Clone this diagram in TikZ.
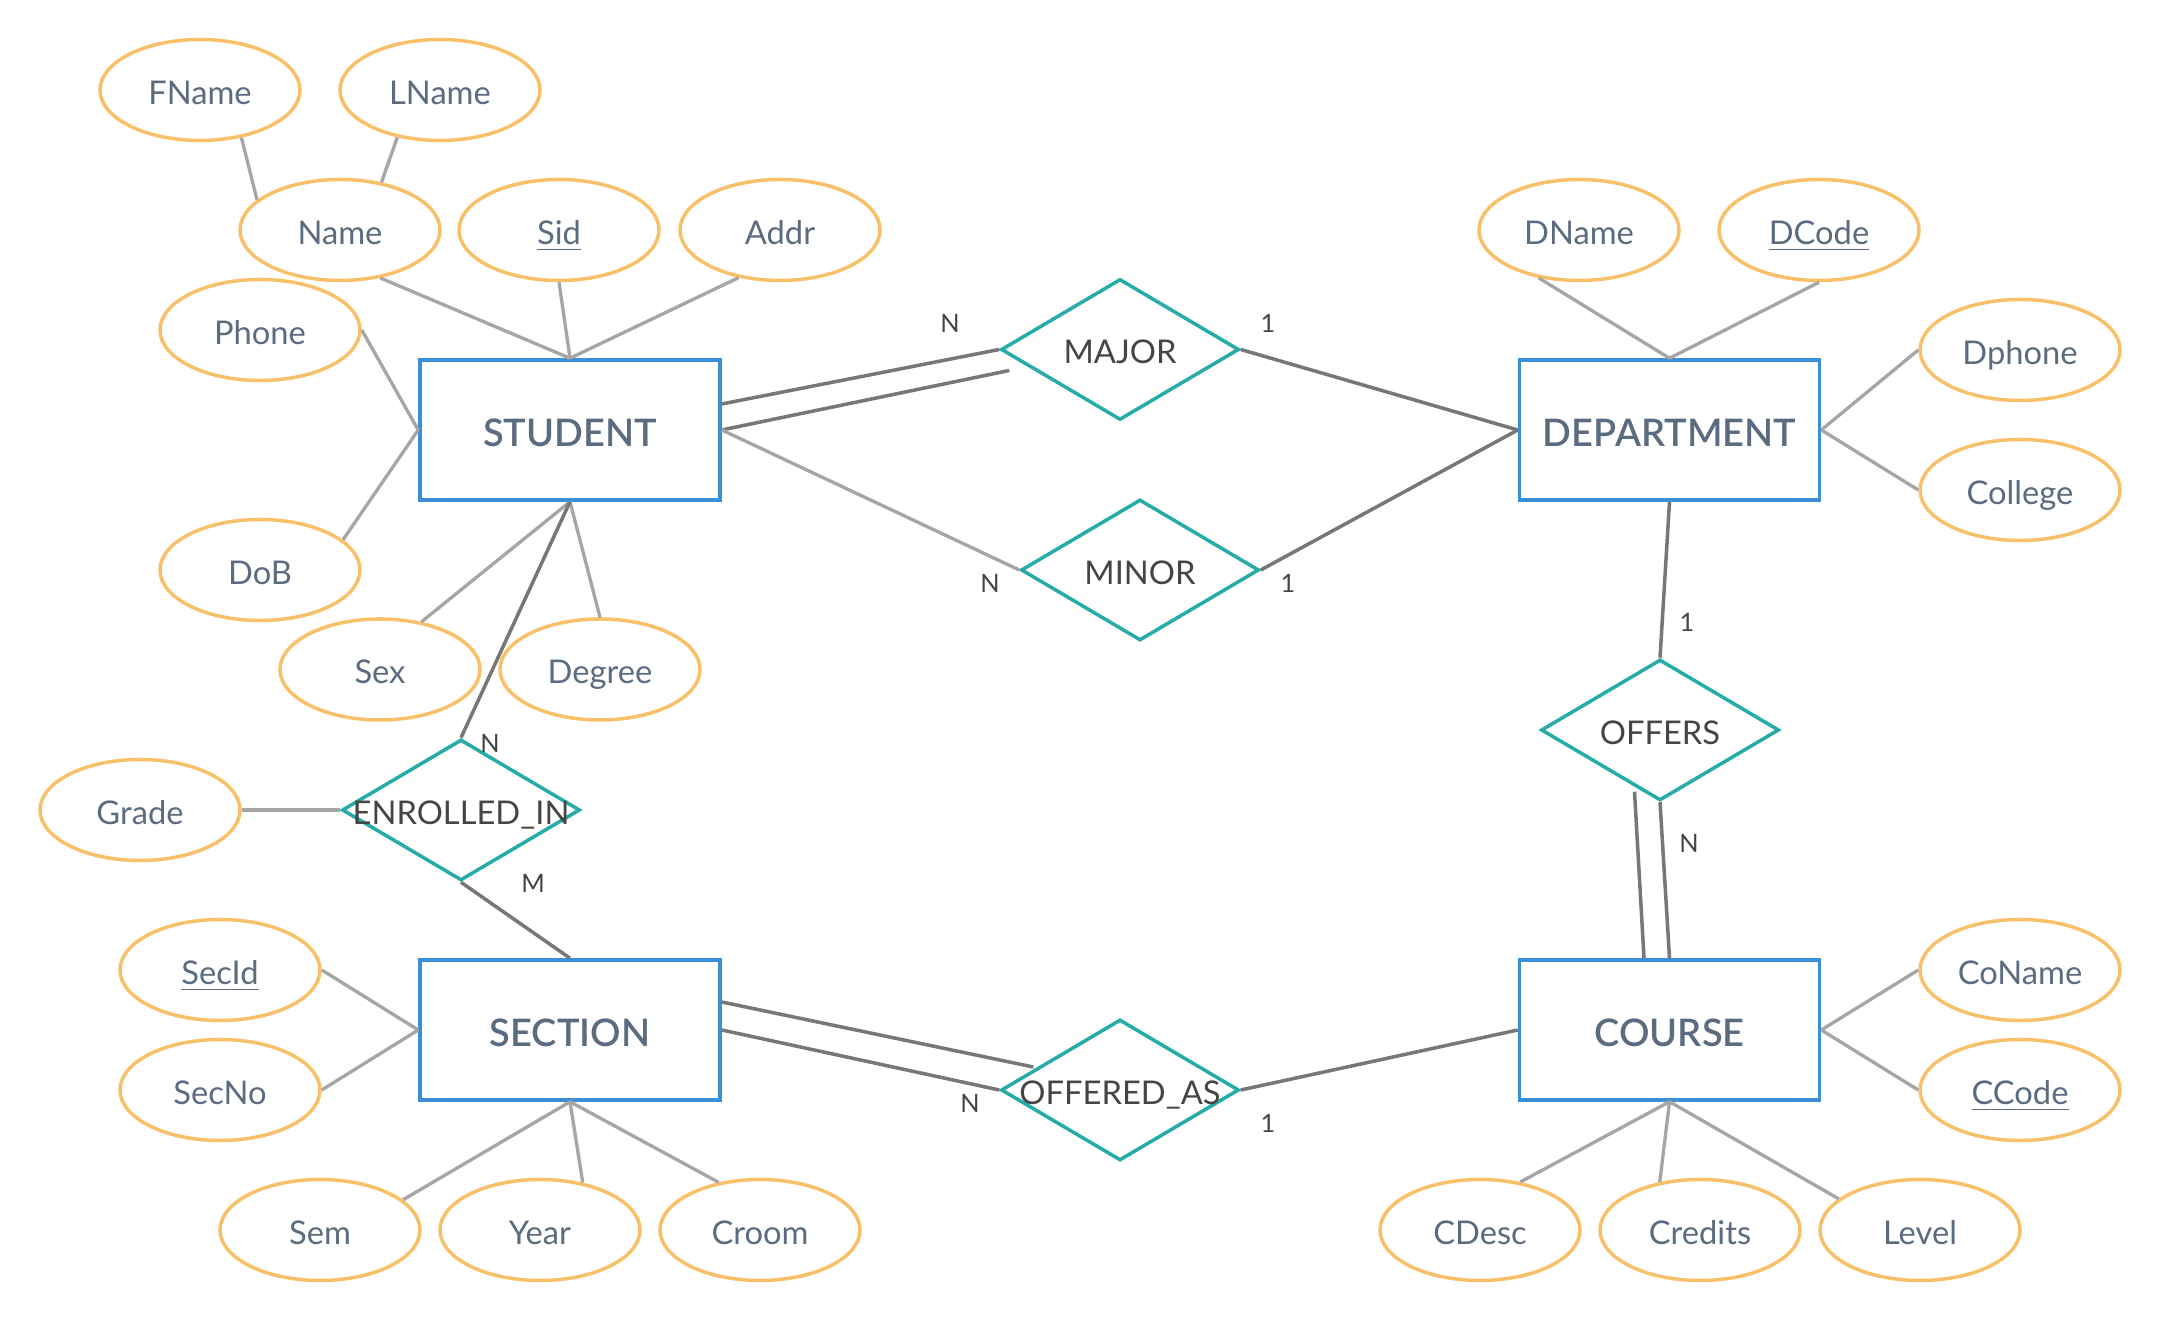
\documentclass[tikz,border=0pt]{standalone}
\usepackage{fontspec}
\setmainfont{Lato}
\newfontface\entfont{Lato Semibold}
\usepackage{tikz}
\usetikzlibrary{calc, shapes.geometric}

\definecolor{attrorange}{HTML}{F9C06A}
\definecolor{entblue}{HTML}{3A8FD6}
\definecolor{relteal}{HTML}{26ACA8}
\definecolor{slate}{HTML}{5B6B80}
\definecolor{reltext}{HTML}{454545}
\definecolor{linelight}{HTML}{A6A6A6}
\definecolor{linedark}{HTML}{777777}

\begin{document}
\begin{tikzpicture}
  [
    attr/.style = {draw = attrorange, ellipse, line width = 1pt, minimum width = 2cm,
                   minimum height = 1.01cm, inner sep = 0pt, text = slate,
                   text height = 0.29cm, text depth = 0pt,
                   font = \fontsize{9.3}{11}\selectfont},
    ent/.style  = {draw = entblue, rectangle, line width = 1pt, minimum width = 3cm,
                   minimum height = 1.4cm, inner sep = 0pt, text = slate,
                   text height = 0.33cm, text depth = 0pt,
                   font = \fontsize{10.8}{12}\selectfont\entfont},
    rel/.style  = {draw = relteal, diamond, line width = 1pt, minimum width = 2.38cm,
                   minimum height = 1.41cm, inner sep = 0pt, text = reltext,
                   text height = 0.29cm, text depth = 0pt,
                   font = \fontsize{9.3}{11}\selectfont},
    card/.style = {text = reltext, inner sep = 0pt, font = \fontsize{7.2}{9}\selectfont},
    alink/.style = {draw = linelight, line width = 0.95pt},
    rlink/.style = {draw = linedark, line width = 1pt}
  ]
  \useasboundingbox (0,0) rectangle (21.6,13.2);

  % entities
  \node[ent] (Student) at (5.70, 8.90)  {STUDENT};
  \node[ent] (Dept)    at (16.695, 8.90) {DEPARTMENT};
  \node[ent] (Section) at (5.70, 2.90)  {SECTION};
  \node[ent] (Course)  at (16.695, 2.90) {COURSE};

  % relationships
  \node[rel] (Major)     at (11.20, 9.705) {\makebox[0pt]{MAJOR}};
  \node[rel] (Minor)     at (11.40, 7.50)  {\makebox[0pt]{MINOR}};
  \node[rel] (Offers)    at (16.60, 5.90)  {\makebox[0pt]{OFFERS}};
  \node[rel] (Enrolled)  at (4.61, 5.10)   {\makebox[0pt]{ENROLLED\_IN}};
  \node[rel] (OfferedAs) at (11.20, 2.30)  {\makebox[0pt]{OFFERED\_AS}};

  % attributes
  \node[attr] (FName)   at (2.00, 12.30) {FName};
  \node[attr] (LName)   at (4.40, 12.30) {LName};
  \node[attr] (Name)    at (3.40, 10.90) {Name};
  \node[attr] (Sid)     at (5.59, 10.90) {\underline{Sid}};
  \node[attr] (Addr)    at (7.80, 10.90) {Addr};
  \node[attr] (Phone)   at (2.60, 9.90)  {Phone};
  \node[attr] (DoB)     at (2.60, 7.50)  {DoB};
  \node[attr] (Sex)     at (3.80, 6.505) {Sex};
  \node[attr] (Degree)  at (6.00, 6.505) {Degree};
  \node[attr] (DName)   at (15.79, 10.90) {DName};
  \node[attr] (DCode)   at (18.19, 10.90) {\underline{DCode}};
  \node[attr] (Dphone)  at (20.20, 9.70)  {Dphone};
  \node[attr] (College) at (20.20, 8.30)  {College};
  \node[attr] (Grade)   at (1.40, 5.10)  {Grade};
  \node[attr] (SecId)   at (2.20, 3.50)  {\underline{SecId}};
  \node[attr] (SecNo)   at (2.20, 2.30)  {SecNo};
  \node[attr] (Sem)     at (3.20, 0.90)  {Sem};
  \node[attr] (Year)    at (5.40, 0.90)  {Year};
  \node[attr] (Croom)   at (7.60, 0.90)  {Croom};
  \node[attr] (CoName)  at (20.20, 3.50) {CoName};
  \node[attr] (CCode)   at (20.20, 2.30) {\underline{CCode}};
  \node[attr] (CDesc)   at (14.80, 0.90) {CDesc};
  \node[attr] (Credits) at (17.00, 0.90) {Credits};
  \node[attr] (Level)   at (19.20, 0.90) {Level};

  % attribute links
  \draw[alink] (FName.-49) -- (Name.160);
  \draw[alink] (LName.-132) -- (Name.49);
  \draw[alink] (Name.-50) -- (Student.north);
  \draw[alink] (Sid.south) -- (Student.north);
  \draw[alink] (Addr.-131) -- (Student.north);
  \draw[alink] (Phone.east) -- (Student.west);
  \draw[alink] (DoB.20) -- (Student.west);
  \draw[alink] (Sex.49) -- (Student.south);
  \draw[alink] (Degree.north) -- (Student.south);
  \draw[alink] (DName.-130) -- (Dept.north);
  \draw[alink] (DCode.south) -- (Dept.north);
  \draw[alink] (Dphone.west) -- (Dept.east);
  \draw[alink] (College.west) -- (Dept.east);
  \draw[alink] (Grade.east) -- (Enrolled.west);
  \draw[alink] (SecId.east) -- (Section.west);
  \draw[alink] (SecNo.east) -- (Section.west);
  \draw[alink] (Sem.20) -- (Section.south);
  \draw[alink] (Year.48) -- (Section.south);
  \draw[alink] (Croom.131) -- (Section.south);
  \draw[alink] (CoName.west) -- (Course.east);
  \draw[alink] (CCode.west) -- (Course.east);
  \draw[alink] (CDesc.50) -- (Course.south);
  \draw[alink] (Credits.130) -- (Course.south);
  \draw[alink] (Level.159) -- (Course.south);

  % relationship links
  \draw[rlink] ($(Student.east)+(0,0.26)$) -- (Major.west);
  \draw[rlink] (Student.east) -- ($(Major.west)+(0.1,-0.21)$);
  \draw[rlink] (Major.east) -- (Dept.west);
  \draw[alink] (Student.east) -- (Minor.west);
  \draw[rlink] (Minor.east) -- (Dept.west);
  \draw[rlink] (Dept.south) -- (Offers.north);
  \draw[rlink] (Offers.south) -- (Course.north);
  \draw[rlink] ($(Offers.south)+(-0.255,0.105)$) -- ($(Course.north)+(-0.255,0)$);
  \draw[rlink] (Student.south) -- (Enrolled.north);
  \draw[rlink] (Enrolled.south) -- (Section.north);
  \draw[rlink] ($(Section.east)+(0,0.28)$) -- ($(OfferedAs.west)+(0.34,0.23)$);
  \draw[rlink] (Section.east) -- (OfferedAs.west);
  \draw[rlink] (OfferedAs.east) -- (Course.west);

  % cardinalities
  \begin{scope}[every node/.style = card]
    \node (cMajorN)   at (9.50, 9.97)  {N};
    \node (cMajor1)   at (12.68, 9.97) {1};
    \node (cMinorN)   at (9.90, 7.37)  {N};
    \node (cMinor1)   at (12.88, 7.37) {1};
    \node (cOffers1)  at (16.87, 6.98) {1};
    \node (cOffersN)  at (16.89, 4.77) {N};
    \node (cEnrolN)   at (4.90, 5.77)  {N};
    \node (cEnrolM)   at (5.33, 4.37)  {M};
    \node (cOfferedN) at (9.70, 2.17)  {N};
    \node (cOffered1) at (12.68, 1.97) {1};
  \end{scope}
\end{tikzpicture}
\end{document}
